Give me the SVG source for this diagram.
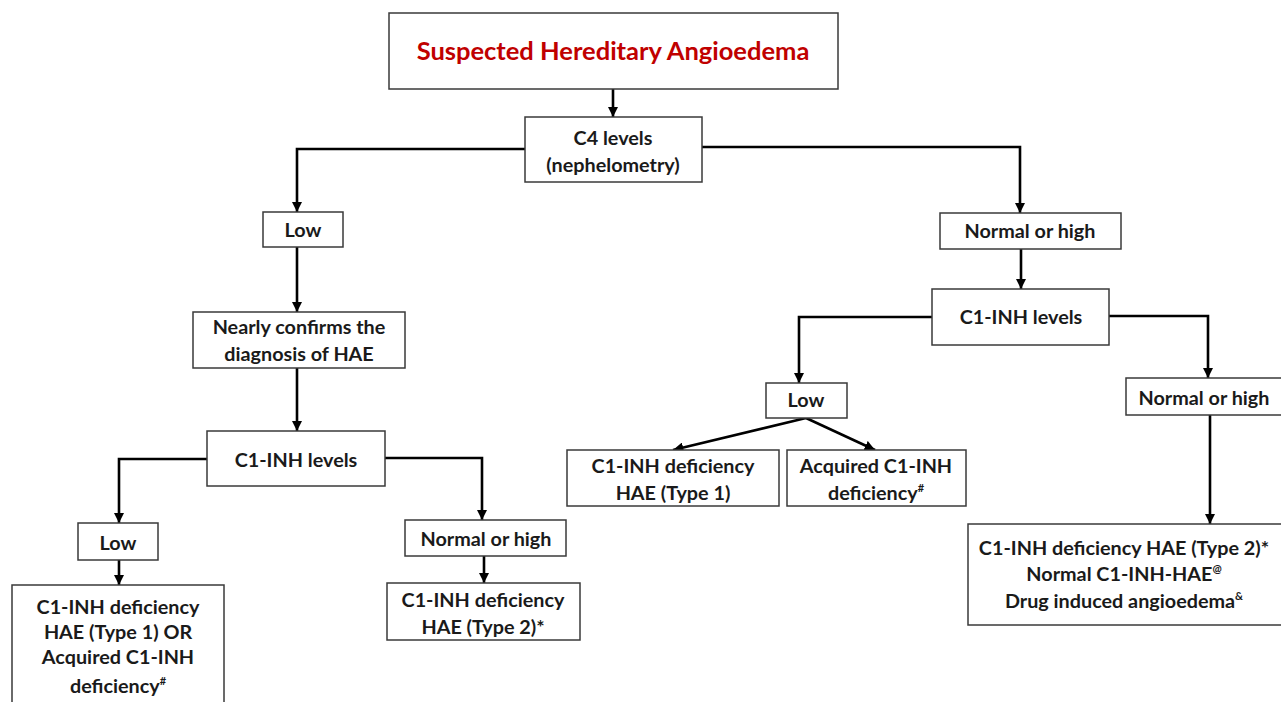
<svg xmlns="http://www.w3.org/2000/svg" width="1281" height="702" viewBox="0 0 1281 702">
<style>
.box{fill:#fff;stroke:#3a3a3a;stroke-width:1.5}
.t{font-family:Lato,"Liberation Sans",sans-serif;font-weight:bold;font-size:19.8px;fill:#1a1a1a;text-anchor:middle}
.title{font-family:Lato,"Liberation Sans",sans-serif;font-weight:bold;font-size:25.5px;fill:#c00000;text-anchor:middle}
.c{fill:none;stroke:#000;stroke-width:2.6}
.sup{font-size:11px}
</style>
<defs>
<marker id="ah" viewBox="0 0 10 10" refX="10" refY="5" markerWidth="4" markerHeight="4" orient="auto" markerUnits="strokeWidth">
<path d="M0,0 L10,5 L0,10 z" fill="#000"/>
</marker>
</defs>
<rect width="1281" height="702" fill="#fff"/>
<g id="connectors">
<path class="c" d="M613,89 V117" marker-end="url(#ah)"/>
<path class="c" d="M525,149 H297 V212" marker-end="url(#ah)"/>
<path class="c" d="M702,147 H1020 V213" marker-end="url(#ah)"/>
<path class="c" d="M297,247 V312" marker-end="url(#ah)"/>
<path class="c" d="M297,368 V431" marker-end="url(#ah)"/>
<path class="c" d="M207,459 H119 V523" marker-end="url(#ah)"/>
<path class="c" d="M119,560 V585" marker-end="url(#ah)"/>
<path class="c" d="M385,458 H482 V520" marker-end="url(#ah)"/>
<path class="c" d="M484,556 V583" marker-end="url(#ah)"/>
<path class="c" d="M1021,249 V289" marker-end="url(#ah)"/>
<path class="c" d="M932,317 H799 V383" marker-end="url(#ah)"/>
<path class="c" d="M806,418 L673,450" marker-end="url(#ah)"/>
<path class="c" d="M806,418 L875,450" marker-end="url(#ah)"/>
<path class="c" d="M1109,316 H1208 V378" marker-end="url(#ah)"/>
<path class="c" d="M1210,415 V524" marker-end="url(#ah)"/>
</g>
<g id="n-title">
<rect class="box" x="389" y="13" width="449" height="76"/>
<text class="title" x="613" y="60">Suspected Hereditary Angioedema</text>
</g>
<g id="n-c4">
<rect class="box" x="525" y="117" width="177" height="65"/>
<text class="t" x="613" y="145">C4 levels</text>
<text class="t" x="613" y="172">(nephelometry)</text>
</g>
<g id="n-low1">
<rect class="box" x="263" y="212" width="80" height="35"/>
<text class="t" x="303" y="237">Low</text>
</g>
<g id="n-nearly">
<rect class="box" x="193" y="312" width="212" height="56"/>
<text class="t" x="299" y="334">Nearly confirms the</text>
<text class="t" x="299" y="361">diagnosis of HAE</text>
</g>
<g id="n-c1inh-left">
<rect class="box" x="207" y="431" width="178" height="55"/>
<text class="t" x="296" y="467">C1-INH levels</text>
</g>
<g id="n-low2">
<rect class="box" x="78" y="523" width="80" height="37"/>
<text class="t" x="118" y="550">Low</text>
</g>
<g id="n-res1">
<rect class="box" x="12" y="585" width="212" height="125"/>
<text class="t" x="118" y="614">C1-INH deficiency</text>
<text class="t" x="118" y="639">HAE (Type 1) OR</text>
<text class="t" x="118" y="664">Acquired C1-INH</text>
<text class="t" x="118" y="693">deficiency<tspan class="sup" dy="-8">#</tspan></text>
</g>
<g id="n-norm2">
<rect class="box" x="405" y="520" width="161" height="36"/>
<text class="t" x="486" y="546">Normal or high</text>
</g>
<g id="n-res2">
<rect class="box" x="387" y="583" width="193" height="57"/>
<text class="t" x="483" y="607">C1-INH deficiency</text>
<text class="t" x="483" y="634">HAE (Type 2)*</text>
</g>
<g id="n-norm1">
<rect class="box" x="940" y="213" width="181" height="36"/>
<text class="t" x="1030" y="238">Normal or high</text>
</g>
<g id="n-c1inh-right">
<rect class="box" x="932" y="289" width="177" height="56"/>
<text class="t" x="1021" y="324">C1-INH levels</text>
</g>
<g id="n-low3">
<rect class="box" x="766" y="383" width="81" height="35"/>
<text class="t" x="806" y="407">Low</text>
</g>
<g id="n-res3">
<rect class="box" x="567" y="450" width="212" height="56"/>
<text class="t" x="673" y="473">C1-INH deficiency</text>
<text class="t" x="673" y="500">HAE (Type 1)</text>
</g>
<g id="n-res4">
<rect class="box" x="787" y="450" width="179" height="56"/>
<text class="t" x="876" y="473">Acquired C1-INH</text>
<text class="t" x="876" y="500">deficiency<tspan class="sup" dy="-8">#</tspan></text>
</g>
<g id="n-norm3">
<rect class="box" x="1126" y="378" width="160" height="37"/>
<text class="t" x="1204" y="405">Normal or high</text>
</g>
<g id="n-res5">
<rect class="box" x="968" y="524" width="318" height="101"/>
<text class="t" x="1124" y="555">C1-INH deficiency HAE (Type 2)*</text>
<text class="t" x="1124" y="581">Normal C1-INH-HAE<tspan class="sup" dy="-8">@</tspan></text>
<text class="t" x="1124" y="608">Drug induced angioedema<tspan class="sup" dy="-8">&amp;</tspan></text>
</g>
</svg>
